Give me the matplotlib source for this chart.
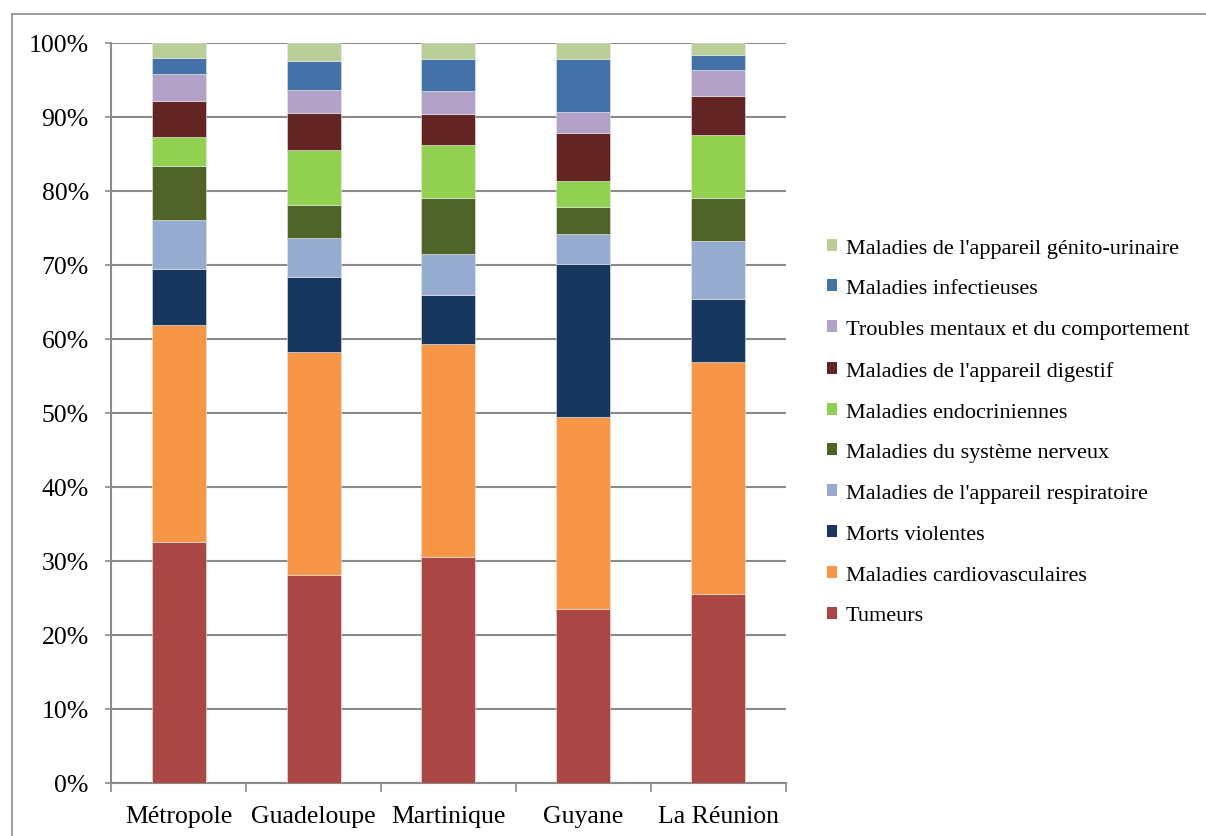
import matplotlib
matplotlib.use("Agg")
import matplotlib.pyplot as plt
from matplotlib.lines import Line2D
from matplotlib.patches import Patch
import numpy as np

regions = ["Métropole", "Guadeloupe", "Martinique", "Guyane", "La Réunion"]
causes = [
    "Tumeurs",
    "Maladies cardiovasculaires",
    "Morts violentes",
    "Maladies de l'appareil respiratoire",
    "Maladies du système nerveux",
    "Maladies endocriniennes",
    "Maladies de l'appareil digestif",
    "Troubles mentaux et du comportement",
    "Maladies infectieuses",
    "Maladies de l'appareil génito-urinaire",
]
tumeurs = [32.6, 28.1, 30.6, 23.5, 25.6]
cardio = [29.3, 30.2, 28.7, 26.0, 31.3]
morts = [7.6, 10.1, 6.6, 20.7, 8.5]
respir = [6.6, 5.3, 5.6, 4.0, 7.8]
nerveux = [7.3, 4.4, 7.5, 3.6, 5.9]
endocr = [3.9, 7.4, 7.2, 3.6, 8.5]
digestif = [4.9, 5.0, 4.2, 6.4, 5.2]
mentaux = [3.6, 3.1, 3.1, 2.9, 3.5]
infect = [2.2, 4.0, 4.3, 7.1, 2.1]
genito = [2.0, 2.4, 2.2, 2.2, 1.6]
series = [tumeurs, cardio, morts, respir, nerveux, endocr, digestif, mentaux, infect, genito]
colors = ["#AA4744", "#F79646", "#17375E", "#95ABD0", "#4F6228",
          "#92D050", "#632523", "#B3A2C7", "#4472A8", "#B9CF97"]

W, H = 1206, 837
fig = plt.figure(figsize=(W / 100, H / 100), dpi=100)
fig.patch.set_facecolor("white")
ax = fig.add_axes([111 / W, 1 - 784 / H, (786 - 111) / W, (784 - 44) / H])

# outer chart frame
fig.add_artist(Line2D([12 / W, 1.0], [1 - 15 / H, 1 - 15 / H], transform=fig.transFigure, color="#8c8c8c", lw=1.2))
fig.add_artist(Line2D([12 / W, 12 / W], [0, 1 - 15 / H], transform=fig.transFigure, color="#8c8c8c", lw=1.2))

x = np.arange(len(regions))
bottom = np.zeros(len(regions))
for vals, c in zip(series, colors):
    v = np.array(vals)
    ax.bar(x, v, 0.4, bottom=bottom, color=c, edgecolor="#e8e8e8", linewidth=0.4, zorder=3)
    bottom += v

ax.set_xlim(-0.5, len(regions) - 0.5)
ax.set_ylim(0, 100)
ax.set_yticks(np.arange(0, 101, 10))
ax.set_yticklabels([f"{v}%" for v in range(0, 101, 10)])
ax.yaxis.grid(True, color="#8a8a8a", linewidth=1.5, zorder=0)
ax.set_axisbelow(True)

for s in ["top", "right"]:
    ax.spines[s].set_visible(False)
ax.spines["left"].set_color("#8a8a8a")
ax.spines["left"].set_linewidth(1.5)
ax.spines["bottom"].set_color("#8a8a8a")
ax.spines["bottom"].set_linewidth(1.5)

ax.set_xticks(x)
ax.set_xticklabels(regions)
ax.set_xticks(np.arange(-0.5, len(regions), 1.0), minor=True)
ax.tick_params(axis="x", which="major", length=0, pad=16)
ax.tick_params(axis="x", which="minor", length=6.5, width=1.2, color="#8a8a8a", direction="out")
ax.tick_params(axis="y", length=4, width=1.2, color="#8a8a8a", pad=12)

font = "Liberation Serif"
for lab in ax.get_xticklabels() + ax.get_yticklabels():
    lab.set_fontfamily(font)
    lab.set_fontsize(18.5)
    lab.set_color("black")

handles = [Patch(facecolor=c, edgecolor="none") for c in colors][::-1]
labels = causes[::-1]
leg = fig.legend(handles, labels, loc="center left", bbox_to_anchor=(827 / W, 1 - 433 / H),
                 frameon=False, prop={"family": font, "size": 16},
                 handlelength=0.45, handleheight=0.45, handletextpad=0.4,
                 labelspacing=0.98, borderaxespad=0, borderpad=0)

fig.savefig("out.png", dpi=100, facecolor="white")
